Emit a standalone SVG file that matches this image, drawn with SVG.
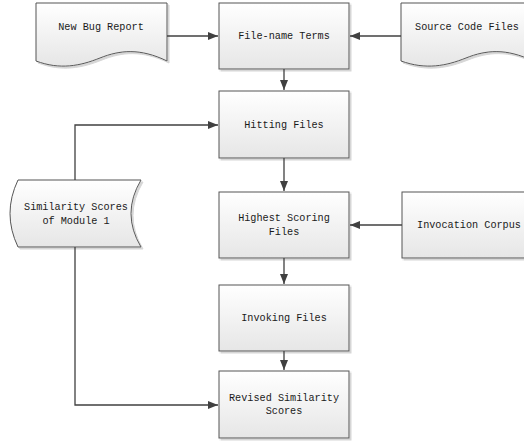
<svg xmlns="http://www.w3.org/2000/svg" width="524" height="441" viewBox="0 0 524 441">
<defs>
<linearGradient id="g" x1="0" y1="0" x2="0" y2="1">
<stop offset="0" stop-color="#ffffff"/>
<stop offset="1" stop-color="#e6e6e6"/>
</linearGradient>
<marker id="arr" viewBox="0 0 10 10" refX="10" refY="5" markerWidth="10" markerHeight="10" markerUnits="userSpaceOnUse" orient="auto">
<path d="M0,1 L10,5 L0,9 Z" fill="#404040"/>
</marker>
<filter id="sh" x="-10%" y="-10%" width="130%" height="130%">
<feOffset in="SourceAlpha" dx="1.5" dy="1.5" result="o"/>
<feColorMatrix in="o" type="matrix" values="0 0 0 0 0.6  0 0 0 0 0.6  0 0 0 0 0.6  0 0 0 0.8 0" result="c"/>
<feMerge><feMergeNode in="c"/><feMergeNode in="SourceGraphic"/></feMerge>
</filter>
</defs>
<style>
.n{fill:url(#g);stroke:#555555;stroke-width:1;filter:url(#sh)}
.t{font-family:"Liberation Mono",monospace;font-size:10.2px;fill:#1a1a1a;text-anchor:middle}
.c{fill:none;stroke:#404040;stroke-width:1.3;marker-end:url(#arr)}
.l{fill:none;stroke:#404040;stroke-width:1.3}
</style>
<g id="new-bug-report">
<path class="n" d="M36,3 H167 V61 C140,48 120,50 100,58 C80,66 60,70 36,61 Z"/>
<text class="t" x="101" y="30">New Bug Report</text>
</g>
<g id="file-name-terms">
<rect class="n" x="219" y="3" width="130" height="66"/>
<text class="t" x="284" y="39">File-name Terms</text>
</g>
<g id="source-code-files">
<path class="n" d="M401,3 H533 V61 C506,48 486,50 466,58 C446,66 426,70 401,61 Z"/>
<text class="t" x="467" y="30">Source Code Files</text>
</g>
<g id="hitting-files">
<rect class="n" x="219" y="91" width="130" height="67"/>
<text class="t" x="284" y="128">Hitting Files</text>
</g>
<g id="similarity-scores">
<path class="n" d="M18,180 H141 Q121,213.5 141,247 H18 Q2,213.5 18,180 Z"/>
<text class="t" x="76" y="210">Similarity Scores</text>
<text class="t" x="76" y="224">of Module 1</text>
</g>
<g id="highest-scoring-files">
<rect class="n" x="219" y="192" width="130" height="66"/>
<text class="t" x="284" y="221">Highest Scoring</text>
<text class="t" x="284" y="235">Files</text>
</g>
<g id="invocation-corpus">
<rect class="n" x="402" y="192" width="132" height="66"/>
<text class="t" x="469" y="228">Invocation Corpus</text>
</g>
<g id="invoking-files">
<rect class="n" x="219" y="285" width="130" height="66"/>
<text class="t" x="284" y="321">Invoking Files</text>
</g>
<g id="revised-similarity-scores">
<rect class="n" x="219" y="371" width="130" height="67"/>
<text class="t" x="284" y="401">Revised Similarity</text>
<text class="t" x="284" y="414">Scores</text>
</g>
<g id="connectors">
<path class="c" d="M167,36 H218"/>
<path class="c" d="M401,36 H350"/>
<path class="c" d="M284,69 V90"/>
<path class="c" d="M284,158 V191"/>
<path class="c" d="M402,225 H350"/>
<path class="c" d="M284,258 V284"/>
<path class="c" d="M284,351 V370"/>
<path class="c" d="M75,180 V125 H218"/>
<path class="c" d="M75,247 V405 H218"/>
</g>
</svg>
